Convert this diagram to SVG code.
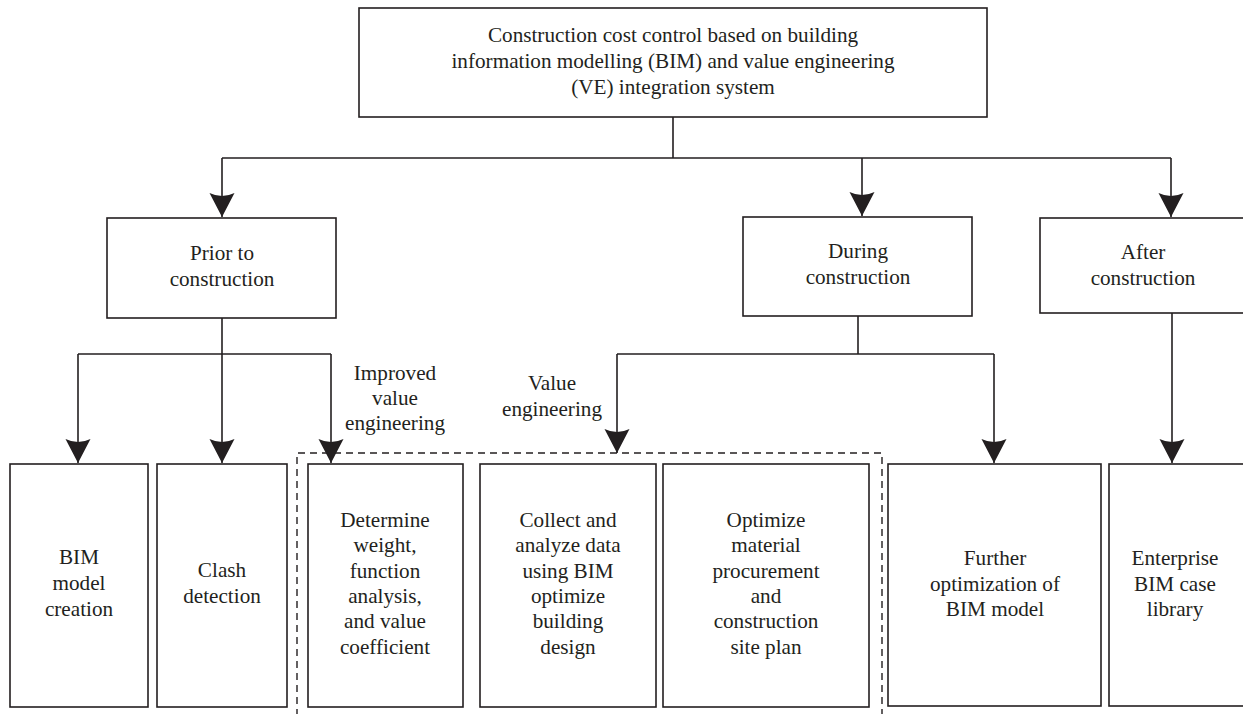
<svg xmlns="http://www.w3.org/2000/svg" width="1243" height="714" viewBox="0 0 1243 714">
<defs>
<style>
.box{fill:#fff;stroke:#231f20;stroke-width:1.6}
.ln{fill:none;stroke:#231f20;stroke-width:1.6}
.dash{fill:none;stroke:#231f20;stroke-width:1.4;stroke-dasharray:7,5}
.t{font-family:'Liberation Serif','Times New Roman',Times,serif;font-size:21.2px;fill:#231f20;text-anchor:middle}
</style>
<marker id="ah" viewBox="-26 -14 27 28" markerWidth="27" markerHeight="28" refX="0" refY="0" orient="auto" markerUnits="userSpaceOnUse">
<path d="M-24,-12.5 Q-18,0 -24,12.5 L0,0 Z" fill="#231f20"/>
</marker>
</defs>
<rect width="1243" height="714" fill="#fff"/>

<g id="connectors">
<path class="ln" d="M673,117 V158 M222,158 H1171 M222,354 H331 M78,354 H222 M617,354 H994"/>
<path class="ln" d="M222,158 V217" marker-end="url(#ah)"/>
<path class="ln" d="M862,158 V216" marker-end="url(#ah)"/>
<path class="ln" d="M1171,158 V217" marker-end="url(#ah)"/>
<path class="ln" d="M222,318 V354"/>
<path class="ln" d="M78,354 V463" marker-end="url(#ah)"/>
<path class="ln" d="M222,354 V463" marker-end="url(#ah)"/>
<path class="ln" d="M331,354 V463" marker-end="url(#ah)"/>
<path class="ln" d="M858,316 V354"/>
<path class="ln" d="M617,354 V453" marker-end="url(#ah)"/>
<path class="ln" d="M994,354 V463" marker-end="url(#ah)"/>
<path class="ln" d="M1172,313 V463" marker-end="url(#ah)"/>
</g>

<g id="ve-group">
<path class="dash" d="M297,716 V453 H882 V716"/>
</g>

<g id="label-improved" class="t" font-family="Liberation Serif, serif">
<text x="395" y="380">Improved</text>
<text x="395" y="405">value</text>
<text x="395" y="430">engineering</text>
</g>
<g id="label-value" class="t" font-family="Liberation Serif, serif">
<text x="552" y="390">Value</text>
<text x="552" y="416">engineering</text>
</g>

<g id="top" class="t" font-family="Liberation Serif, serif">
<rect class="box" x="359" y="8" width="628" height="109"/>
<text x="673" y="42">Construction cost control based on building</text>
<text x="673" y="68">information modelling (BIM) and value engineering</text>
<text x="673" y="94">(VE) integration system</text>
</g>

<g id="prior" class="t" font-family="Liberation Serif, serif">
<rect class="box" x="107" y="218" width="229" height="100"/>
<text x="222" y="260">Prior to</text>
<text x="222" y="286">construction</text>
</g>

<g id="during" class="t" font-family="Liberation Serif, serif">
<rect class="box" x="743" y="217" width="229" height="99"/>
<text x="858" y="258">During</text>
<text x="858" y="284">construction</text>
</g>

<g id="after" class="t" font-family="Liberation Serif, serif">
<rect class="box" x="1040" y="218" width="210" height="95"/>
<text x="1143" y="259">After</text>
<text x="1143" y="285">construction</text>
</g>

<g id="bim" class="t" font-family="Liberation Serif, serif">
<rect class="box" x="10" y="464" width="138" height="243"/>
<text x="79" y="564">BIM</text>
<text x="79" y="590">model</text>
<text x="79" y="616">creation</text>
</g>

<g id="clash" class="t" font-family="Liberation Serif, serif">
<rect class="box" x="157" y="464" width="130" height="243"/>
<text x="222" y="577">Clash</text>
<text x="222" y="603">detection</text>
</g>

<g id="determine" class="t" font-family="Liberation Serif, serif">
<rect class="box" x="308" y="464" width="155" height="243"/>
<text x="385" y="527">Determine</text>
<text x="385" y="552">weight,</text>
<text x="385" y="578">function</text>
<text x="385" y="603">analysis,</text>
<text x="385" y="628">and value</text>
<text x="385" y="654">coefficient</text>
</g>

<g id="collect" class="t" font-family="Liberation Serif, serif">
<rect class="box" x="480" y="464" width="176" height="243"/>
<text x="568" y="527">Collect and</text>
<text x="568" y="552">analyze data</text>
<text x="568" y="578">using BIM</text>
<text x="568" y="603">optimize</text>
<text x="568" y="628">building</text>
<text x="568" y="654">design</text>
</g>

<g id="optimize" class="t" font-family="Liberation Serif, serif">
<rect class="box" x="663" y="464" width="206" height="243"/>
<text x="766" y="527">Optimize</text>
<text x="766" y="552">material</text>
<text x="766" y="578">procurement</text>
<text x="766" y="603">and</text>
<text x="766" y="628">construction</text>
<text x="766" y="654">site plan</text>
</g>

<g id="further" class="t" font-family="Liberation Serif, serif">
<rect class="box" x="888" y="464" width="213" height="242"/>
<text x="995" y="565">Further</text>
<text x="995" y="591">optimization of</text>
<text x="995" y="616">BIM model</text>
</g>

<g id="enterprise" class="t" font-family="Liberation Serif, serif">
<rect class="box" x="1109" y="464" width="141" height="242"/>
<text x="1175" y="565">Enterprise</text>
<text x="1175" y="591">BIM case</text>
<text x="1175" y="616">library</text>
</g>
</svg>
